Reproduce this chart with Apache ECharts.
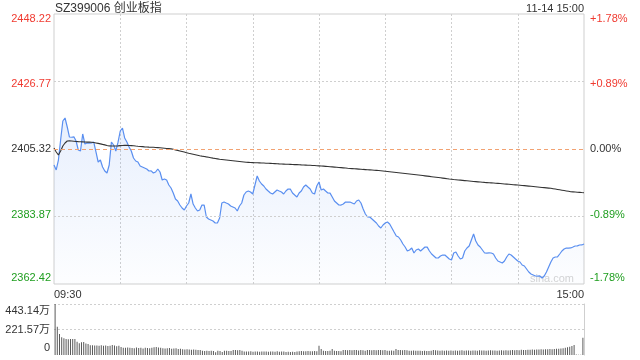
<!DOCTYPE html>
<html><head><meta charset="utf-8">
<script src="https://cdn.jsdelivr.net/npm/echarts@6/dist/echarts.min.js"></script>
<style>html,body{margin:0;padding:0;background:#fff}#c{width:640px;height:360px}</style>
</head><body><div id="c"></div>
<script>
const titleText = 'SZ399006 创业板指';
const timeText = '11-14 15:00';
const preClose = 2405.32;
const priceTicks = [2362.42, 2383.87, 2405.32, 2426.77, 2448.22];
const pctTicks = ['-1.78%', '-0.89%', '0.00%', '+0.89%', '+1.78%'];
const volTicks = [0, 221.57, 443.14];
const volTickLabels = ['0', '221.57万', '443.14万'];
const timeTicks = ['09:30', '15:00'];

const price = [
2400.24,2398.65,2401.82,2408.18,2414.22,2415.17,2412.31,2409.13,2409.05,2409.20,
2407.86,2405.00,2404.68,2410.09,2406.91,2407.23,2407.20,2407.28,2407.54,2404.37,
2401.19,2401.82,2399.60,2398.33,2397.69,2400.24,2407.54,2406.59,2404.68,2407.50,
2411.04,2411.99,2408.82,2407.54,2405.96,2404.68,2402.46,2401.51,2401.19,2399.92,
2399.60,2399.28,2398.96,2398.33,2398.35,2397.69,2398.01,2398.96,2398.01,2395.47,
2395.79,2395.47,2393.88,2392.93,2391.34,2389.43,2388.80,2387.52,2386.57,2385.94,
2387.21,2388.16,2391.02,2387.84,2386.57,2385.62,2385.94,2387.52,2387.50,2383.71,
2383.08,2382.76,2382.44,2381.80,2381.82,2383.39,2388.16,2388.48,2388.14,2387.84,
2387.21,2386.89,2386.57,2385.62,2387.21,2388.16,2390.70,2391.66,2391.97,2391.66,
2391.02,2393.88,2396.74,2395.15,2394.20,2393.56,2392.61,2391.97,2391.34,2391.02,
2391.66,2392.29,2391.97,2391.66,2391.02,2391.97,2392.61,2392.60,2391.34,2390.70,
2390.07,2391.34,2391.97,2393.24,2393.88,2393.24,2392.61,2391.34,2391.02,2393.56,
2394.83,2392.29,2392.61,2391.97,2391.34,2391.30,2390.07,2388.80,2388.16,2387.52,
2387.50,2387.84,2388.48,2388.45,2388.48,2388.16,2387.84,2388.80,2389.11,2388.16,
2386.25,2384.66,2383.71,2383.70,2383.08,2382.44,2381.80,2380.85,2380.22,2381.17,
2381.80,2382.12,2381.49,2380.22,2378.94,2377.67,2377.36,2376.40,2375.13,2374.18,
2372.91,2373.22,2373.86,2372.27,2373.22,2373.54,2372.91,2373.54,2374.18,2374.15,
2372.91,2371.95,2371.32,2370.68,2370.70,2371.32,2371.64,2371.62,2371.00,2370.36,
2370.05,2372.27,2372.59,2371.32,2370.36,2370.68,2372.91,2373.86,2374.50,2376.40,
2378.31,2376.08,2374.81,2374.18,2373.22,2372.27,2372.25,2372.29,2372.27,2371.95,
2370.68,2369.73,2369.41,2369.09,2369.73,2371.00,2371.95,2371.64,2371.00,2370.36,
2369.73,2369.41,2368.46,2368.14,2367.19,2366.23,2365.60,2365.28,2364.96,2364.95,
2364.98,2364.33,2364.96,2366.23,2367.82,2369.41,2370.68,2371.00,2371.02,2371.95,
2372.91,2373.54,2373.86,2373.84,2373.88,2374.18,2374.50,2374.52,2374.81,2374.83,
2375.13
];

const avgPrice = [
2405.64,2404.37,2403.41,2404.68,2406.27,2407.23,2407.86,2407.90,2407.88,2407.80,
2407.72,2407.65,2407.60,2407.58,2407.55,2407.52,2407.50,2407.45,2407.40,2407.25,
2407.10,2406.95,2406.78,2406.62,2406.45,2406.30,2406.28,2406.27,2406.26,2406.30,
2406.38,2406.45,2406.48,2406.47,2406.44,2406.40,2406.33,2406.25,2406.18,2406.12,
2406.06,2406.00,2405.96,2405.92,2405.89,2405.86,2405.80,2405.75,2405.70,2405.64,
2405.57,2405.50,2405.43,2405.36,2405.22,2405.05,2404.88,2404.70,2404.52,2404.34,
2404.15,2403.95,2403.80,2403.65,2403.50,2403.35,2403.19,2403.06,2402.94,2402.81,
2402.69,2402.56,2402.43,2402.31,2402.18,2402.05,2401.97,2401.89,2401.81,2401.73,
2401.65,2401.57,2401.49,2401.41,2401.33,2401.25,2401.17,2401.09,2401.06,2401.03,
2401.00,2400.97,2400.94,2400.91,2400.88,2400.85,2400.81,2400.78,2400.74,2400.70,
2400.66,2400.62,2400.58,2400.55,2400.52,2400.49,2400.46,2400.43,2400.40,2400.37,
2400.34,2400.31,2400.27,2400.24,2400.21,2400.18,2400.14,2400.10,2400.06,2400.02,
2399.97,2399.92,2399.87,2399.81,2399.75,2399.69,2399.63,2399.57,2399.51,2399.45,
2399.39,2399.33,2399.26,2399.19,2399.14,2399.09,2399.04,2398.99,2398.94,2398.89,
2398.83,2398.78,2398.73,2398.68,2398.63,2398.57,2398.52,2398.47,2398.42,2398.34,
2398.26,2398.18,2398.10,2398.02,2397.94,2397.86,2397.78,2397.70,2397.62,2397.54,
2397.46,2397.38,2397.30,2397.22,2397.14,2397.06,2396.97,2396.88,2396.79,2396.70,
2396.61,2396.52,2396.43,2396.34,2396.25,2396.16,2396.07,2395.98,2395.89,2395.80,
2395.72,2395.63,2395.56,2395.49,2395.42,2395.35,2395.28,2395.21,2395.14,2395.07,
2395.00,2394.94,2394.88,2394.82,2394.76,2394.70,2394.65,2394.60,2394.56,2394.52,
2394.46,2394.40,2394.34,2394.28,2394.22,2394.16,2394.10,2394.04,2393.98,2393.93,
2393.88,2393.81,2393.74,2393.67,2393.60,2393.53,2393.46,2393.39,2393.32,2393.25,
2393.18,2393.11,2393.04,2392.97,2392.90,2392.83,2392.71,2392.59,2392.47,2392.35,
2392.23,2392.11,2391.99,2391.87,2391.75,2391.70,2391.65,2391.60,2391.54,2391.48,
2391.43
];

const volume = [
443.14,246,182,154,145,139,137,140,138,139,
116,102,110,112,100,96,84,85,83,82,
80,84,80,83,78,81,86,82,76,80,
70,64,62,66,64,60,58,65,60,62,
57,64,60,58,62,68,70,66,62,58,
56,58,60,55,56,58,52,55,50,48,
50,47,45,48,46,44,43,36,35,37,
34,36,35,24,36,35,27,36,37,35,
34,43,44,42,43,38,30,31,30,32,
29,31,30,28,31,30,31,29,30,30,
28,32,29,30,31,27,28,26,29,27,
31,33,34,32,33,35,32,33,34,33,
81,52,36,35,34,37,52,36,34,35,
33,43,44,42,43,41,43,44,40,43,
42,38,43,44,41,43,42,44,43,41,
43,38,37,39,38,52,43,44,42,43,
41,38,37,39,38,36,37,35,36,34,
35,36,43,41,40,38,39,37,40,38,
39,38,40,37,39,41,38,40,39,37,
40,39,38,41,39,40,38,39,41,40,
39,38,40,41,39,42,40,41,43,42,
44,42,45,44,43,46,45,47,46,48,
47,49,48,50,49,52,51,53,55,54,
57,58,62,67,72,78,87,4,3,3,
150
];

// minute categories 09:30-11:30, 13:01-15:00
const times = [];
function pad(n){return (n<10?'0':'')+n;}
for (let m = 9*60+30; m <= 11*60+30; m++) times.push(pad(Math.floor(m/60))+':'+pad(m%60));
for (let m = 13*60+1; m <= 15*60; m++) times.push(pad(Math.floor(m/60))+':'+pad(m%60));

const RED = '#f03a30', GREEN = '#1f9e1f', DARK = '#333';
const FONT = '"Liberation Sans", Arial, "Noto Sans CJK SC", sans-serif';
const GRID = '#cfcfcf';

const chart = echarts.init(document.getElementById('c'), null, {renderer: 'canvas'});

function priceRichKey(v) {
  const i = priceTicks.indexOf(v);
  return ['gBot','gMid','zero','rMid','rTop'][i];
}
const richPrice = {
  rTop: {color: RED, fontSize: 11, fontFamily: FONT, padding: [10,0,0,0]},
  rMid: {color: RED, fontSize: 11, fontFamily: FONT, padding: [5,0,0,0]},
  zero: {color: DARK, fontSize: 11, fontFamily: FONT},
  gMid: {color: GREEN, fontSize: 11, fontFamily: FONT, padding: [0,0,3,0]},
  gBot: {color: GREEN, fontSize: 11, fontFamily: FONT, padding: [0,0,12,0]}
};

const option = {
  animation: false,
  backgroundColor: '#fff',
  title: [
    {text: titleText, left: 55, top: 3, padding: 0, textStyle: {fontSize: 12, fontWeight: 'normal', color: DARK, fontFamily: FONT}},
    {text: timeText, right: 56, top: 3, padding: 0, textStyle: {fontSize: 11, fontWeight: 'normal', color: DARK, fontFamily: FONT}}
  ],
  graphic: [
    {type: 'text', right: 66, top: 273, silent: true, style: {text: 'sina.com', fontSize: 11, fill: '#d4d4d4', fontFamily: FONT}}
  ],
  grid: [
    {left: 54, right: 56, top: 14, height: 270, show: true, borderColor: GRID, borderWidth: 1, backgroundColor: 'transparent'},
    {left: 54, right: 56, top: 304, height: 51, show: false}
  ],
  xAxis: [
    {type: 'category', gridIndex: 0, data: times, boundaryGap: false,
      axisLine: {show: false}, axisTick: {show: false},
      axisLabel: {
        interval: (i) => i === 0 || i === times.length - 1,
        formatter: (v, i) => (i === 0 ? timeTicks[0] : timeTicks[1]),
        alignMinLabel: 'left', alignMaxLabel: 'right',
        color: DARK, fontSize: 11, fontFamily: FONT, margin: 5
      },
      splitLine: {show: true, interval: (i) => i > 0 && i < times.length - 1 && i % 30 === 0,
        lineStyle: {color: GRID, type: [2, 2], width: 1}}
    },
    {type: 'category', gridIndex: 1, data: times, boundaryGap: true,
      axisLine: {show: false}, axisTick: {show: false}, axisLabel: {show: false}, splitLine: {show: false}}
  ],
  yAxis: [
    {type: 'value', gridIndex: 0, position: 'left', min: priceTicks[0], max: priceTicks[4],
      axisLine: {show: false}, axisTick: {show: false}, splitLine: {show: false},
      axisLabel: {customValues: priceTicks, margin: 3, fontSize: 11, fontFamily: FONT,
        formatter: (v) => '{' + priceRichKey(v) + '|' + v.toFixed(2) + '}', rich: richPrice}
    },
    {type: 'value', gridIndex: 0, position: 'right', min: priceTicks[0], max: priceTicks[4],
      axisLine: {show: false}, axisTick: {show: false}, splitLine: {show: false},
      axisLabel: {customValues: priceTicks, margin: 6, fontSize: 11, fontFamily: FONT,
        formatter: (v) => '{' + priceRichKey(v) + '|' + pctTicks[priceTicks.indexOf(v)] + '}', rich: richPrice}
    },
    {type: 'value', gridIndex: 1, position: 'left', min: 0, max: volTicks[2], interval: volTicks[1],
      axisLine: {show: false}, axisTick: {show: false},
      splitLine: {show: true, showMinLine: false, lineStyle: {color: GRID, type: [2, 2]}},
      axisLabel: {margin: 4, fontSize: 11, fontFamily: FONT, color: DARK,
        formatter: (v) => {
          const i = volTicks.indexOf(v);
          if (i === 2) return '{top|' + volTickLabels[2] + '}';
          if (i === 0) return '{bot|' + volTickLabels[0] + '}';
          return '{mid|' + volTickLabels[1] + '}';
        },
        rich: {
          top: {color: DARK, fontSize: 11, fontFamily: FONT, padding: [14,0,0,0]},
          mid: {color: DARK, fontSize: 11, fontFamily: FONT},
          bot: {color: DARK, fontSize: 11, fontFamily: FONT, padding: [0,0,14,0]}
        }
      }
    },
    {type: 'value', gridIndex: 1, position: 'right', min: 0, max: volTicks[2],
      axisLine: {show: true, lineStyle: {color: GRID}}, axisTick: {show: false},
      axisLabel: {show: false}, splitLine: {show: false}}
  ],
  series: [
    {type: 'line', xAxisIndex: 0, yAxisIndex: 0, data: price, symbol: 'none', showSymbol: false,
      lineStyle: {color: '#5a8ff0', width: 1.2},
      areaStyle: {color: new echarts.graphic.LinearGradient(0, 0, 0, 1, [
        {offset: 0, color: 'rgba(90,143,240,0.2)'},
        {offset: 1, color: 'rgba(90,143,240,0.02)'}
      ]), origin: 'start'},
      markLine: {silent: true, symbol: 'none', label: {show: false}, animation: false,
        data: [
          {yAxis: priceTicks[1], lineStyle: {color: GRID, type: [2, 2], width: 1}},
          {yAxis: priceTicks[3], lineStyle: {color: GRID, type: [2, 2], width: 1}},
          {yAxis: preClose, lineStyle: {color: '#f2a272', type: [4, 3], width: 1}}
        ]
      },
      z: 3
    },
    {type: 'line', xAxisIndex: 0, yAxisIndex: 0, data: avgPrice, symbol: 'none', showSymbol: false,
      lineStyle: {color: '#333', width: 1.1}, z: 4},
    {type: 'bar', xAxisIndex: 1, yAxisIndex: 2, data: volume, barWidth: 1,
      itemStyle: {color: '#5a5a5a'}}
  ]
};
chart.setOption(option);
</script>
</body></html>
